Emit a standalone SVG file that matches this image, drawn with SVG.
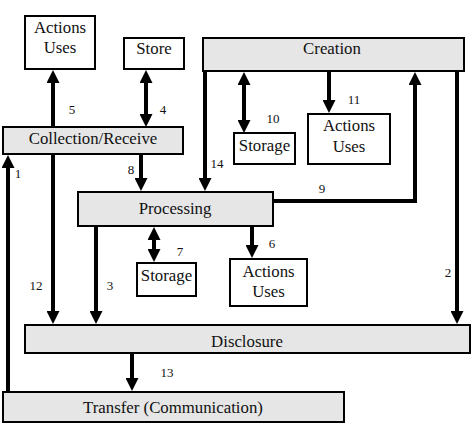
<svg xmlns="http://www.w3.org/2000/svg" width="474" height="429" viewBox="0 0 474 429">
<style>
.bar{fill:#e6e6e6;stroke:#000;stroke-width:2}
.box{fill:#fff;stroke:#000;stroke-width:2}
.t{font-size:16.8px;fill:#111;text-anchor:middle}
.n{font-size:13px;fill:#111;text-anchor:middle}
.c{fill:none;stroke:#000;stroke-width:4}
</style>
<defs>
<marker id="ah" markerUnits="userSpaceOnUse" markerWidth="13" markerHeight="13" refX="0" refY="6.5" orient="auto-start-reverse" viewBox="0 0 13 13">
<path d="M0,0 L13,6.5 L0,13 z" fill="#000"/>
</marker>
</defs>
<rect width="474" height="429" fill="#fff"/>
<g font-family="Liberation Serif, Times New Roman, serif">
<g id="connectors">
<path class="c" d="M53,127 V83" marker-end="url(#ah)"/>
<path class="c" d="M146,83 V114" marker-start="url(#ah)" marker-end="url(#ah)"/>
<path class="c" d="M8,392 V168" marker-end="url(#ah)"/>
<path class="c" d="M53,154 V311" marker-end="url(#ah)"/>
<path class="c" d="M141,154 V178" marker-end="url(#ah)"/>
<path class="c" d="M205,71 V178" marker-end="url(#ah)"/>
<path class="c" d="M244,85 V120" marker-start="url(#ah)" marker-end="url(#ah)"/>
<path class="c" d="M329,71 V100" marker-end="url(#ah)"/>
<path class="c" d="M273,201 H415 V85" marker-end="url(#ah)"/>
<path class="c" d="M457,71 V311" marker-end="url(#ah)"/>
<path class="c" d="M96,226 V311" marker-end="url(#ah)"/>
<path class="c" d="M154,240 V249" marker-start="url(#ah)" marker-end="url(#ah)"/>
<path class="c" d="M252,226 V245" marker-end="url(#ah)"/>
<path class="c" d="M132,353 V378" marker-end="url(#ah)"/>
<text class="n" x="72" y="114">5</text>
<text class="n" x="163" y="114">4</text>
<text class="n" x="18" y="178">1</text>
<text class="n" x="131" y="174">8</text>
<text class="n" x="217" y="168">14</text>
<text class="n" x="273" y="123">10</text>
<text class="n" x="354" y="104">11</text>
<text class="n" x="322" y="193">9</text>
<text class="n" x="448" y="277">2</text>
<text class="n" x="36" y="290">12</text>
<text class="n" x="110" y="290">3</text>
<text class="n" x="180" y="256">7</text>
<text class="n" x="272" y="248">6</text>
<text class="n" x="167" y="377">13</text>
</g>
<g id="actions1"><rect class="box" x="25" y="16" width="70" height="53"/><text class="t" x="60" y="33">Actions</text><text class="t" x="60" y="53">Uses</text></g>
<g id="store"><rect class="box" x="124" y="38" width="60" height="31"/><text class="t" x="154" y="54">Store</text></g>
<g id="creation"><rect class="bar" x="203" y="38" width="261" height="33"/><text class="t" x="332" y="54">Creation</text></g>
<g id="collection"><rect class="bar" x="3" y="127" width="180" height="27"/><text class="t" x="93" y="144">Collection/Receive</text></g>
<g id="storage1"><rect class="box" x="234" y="133" width="61" height="31"/><text class="t" x="264.5" y="151">Storage</text></g>
<g id="actions2"><rect class="box" x="308" y="114" width="82" height="50"/><text class="t" x="349" y="131">Actions</text><text class="t" x="349" y="152">Uses</text></g>
<g id="processing"><rect class="bar" x="78" y="192" width="195" height="34"/><text class="t" x="175" y="214">Processing</text></g>
<g id="storage2"><rect class="box" x="137" y="263" width="59" height="33"/><text class="t" x="166.5" y="281">Storage</text></g>
<g id="actions3"><rect class="box" x="230" y="259" width="77" height="47"/><text class="t" x="268.5" y="277">Actions</text><text class="t" x="268.5" y="297">Uses</text></g>
<g id="disclosure"><rect class="bar" x="25" y="325" width="445" height="28"/><text class="t" x="247" y="347">Disclosure</text></g>
<g id="transfer"><rect class="bar" x="3" y="392" width="341" height="30"/><text class="t" x="173" y="413">Transfer (Communication)</text></g>
</g>
</svg>
